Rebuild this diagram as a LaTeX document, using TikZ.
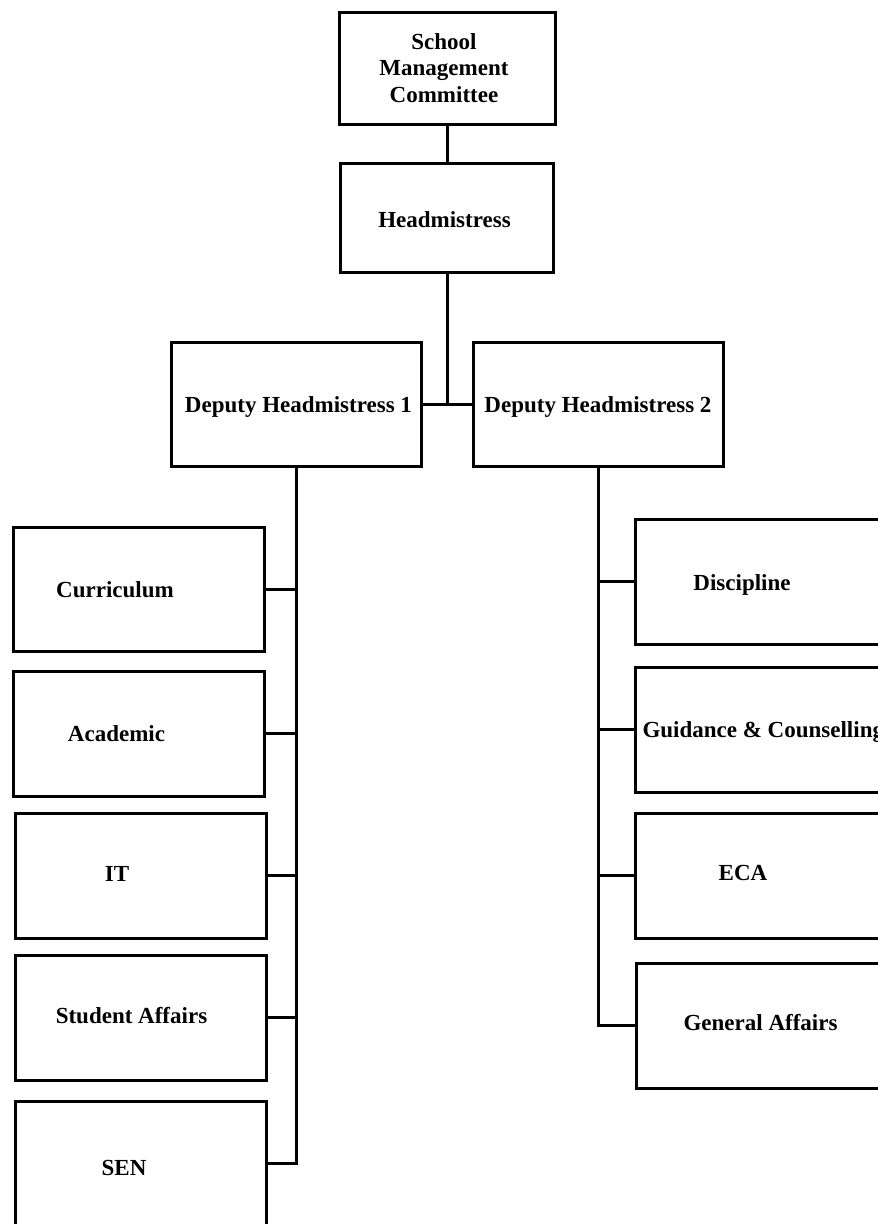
\documentclass[tikz,border=0pt]{standalone}
\usepackage{fontspec}
\setmainfont{Liberation Serif}
\begin{document}
\begin{tikzpicture}[x=1pt,y=-1pt,line width=3pt,
  box/.style={draw,rectangle,inner sep=0pt,minimum width=251pt,minimum height=125pt},
  lbl/.style={inner sep=0pt,anchor=base,font=\fontsize{23}{26.5}\selectfont\bfseries},
  conn/.style={draw,line join=miter}]
\clip (0,0) rectangle (878,1224);
\fill[white] (0,0) rectangle (878,1224);
% boxes
\node[box,minimum width=216pt,minimum height=112pt] (smc) at (447,68) {};
\node[box,minimum width=213pt,minimum height=109pt] (hm) at (447,217.5) {};
\node[box,minimum width=250pt,minimum height=124pt] (dh1) at (296,404) {};
\node[box,minimum width=250pt,minimum height=124pt] (dh2) at (598,404) {};
\node[box,minimum height=124pt] (cur) at (138.5,589) {};
\node[box] (aca) at (138.5,733.5) {};
\node[box] (it) at (140.5,875.5) {};
\node[box] (sa) at (140.5,1017.5) {};
\node[box] (sen) at (140.5,1163.5) {};
\node[box] (dis) at (760.5,581.5) {};
\node[box] (gc) at (760.5,729.5) {};
\node[box] (eca) at (760.5,875.5) {};
\node[box] (ga) at (761.5,1025.5) {};
% labels
\node[lbl,align=center] (smcT) at (444,102) {School\\Management\\Committee};
\node[lbl] (hmT) at (444.5,227) {Headmistress};
\node[lbl] (dh1T) at (298.5,412) {Deputy Headmistress 1};
\node[lbl] (dh2T) at (598,412) {Deputy Headmistress 2};
\node[lbl] (curT) at (115,597) {Curriculum};
\node[lbl] (acaT) at (116.5,741) {Academic};
\node[lbl] (itT) at (117,881) {IT};
\node[lbl] (saT) at (131.5,1023) {Student Affairs};
\node[lbl] (senT) at (124,1175) {SEN};
\node[lbl] (disT) at (742,590) {Discipline};
\node[lbl,anchor=base west] (gcT) at (641,737) {Guidance \& Counselling};
\node[lbl] (ecaT) at (743,880) {ECA};
\node[lbl] (gaT) at (760.5,1030) {General Affairs};
% connectors
\draw[conn] (smc.south) -- (hm.north);
\draw[conn] (hm.south) -- (hm.south |- dh1.east);
\draw[conn] (dh1.east) -- (dh2.west);
\draw[conn] (dh1.south) -- (dh1.south |- sen.east) -- (sen.east);
\draw[conn] (cur.east) -- (cur.east -| dh1.south);
\draw[conn] (aca.east) -- (aca.east -| dh1.south);
\draw[conn] (it.east) -- (it.east -| dh1.south);
\draw[conn] (sa.east) -- (sa.east -| dh1.south);
\draw[conn] (dh2.south) -- (dh2.south |- ga.west) -- (ga.west);
\draw[conn] (dis.west) -- (dis.west -| dh2.south);
\draw[conn] (gc.west) -- (gc.west -| dh2.south);
\draw[conn] (eca.west) -- (eca.west -| dh2.south);
\end{tikzpicture}
\end{document}
